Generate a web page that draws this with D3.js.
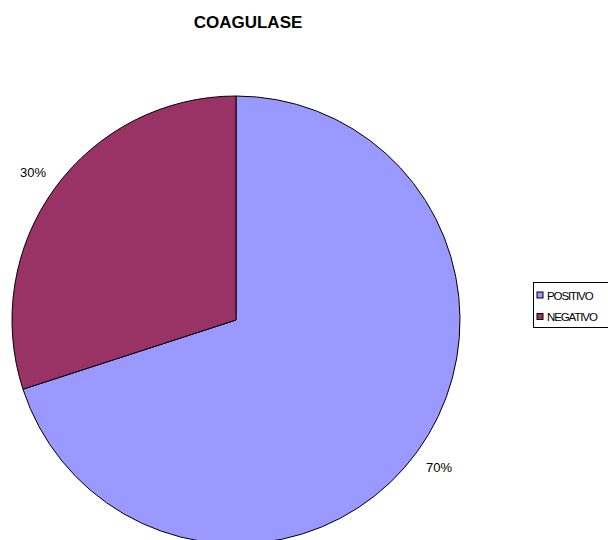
<!DOCTYPE html>
<html><head><meta charset="utf-8">
<script src="https://cdn.jsdelivr.net/npm/d3@7"></script>
<style>body{margin:0;background:#fff;overflow:hidden}svg{display:block}</style>
</head><body>
<svg id="c" width="608" height="540"></svg>
<script>
const title = "COAGULASE";
const categories = ["POSITIVO", "NEGATIVO"];
const values = [70, 30];
const colors = ["#9999FF", "#993366"];

const svg = d3.select("#c");
const cx = 236, cy = 320, r = 224;

svg.append("text").attr("x", 248).attr("y", 28).attr("text-anchor", "middle")
  .attr("font-family", "Arial, 'Liberation Sans', sans-serif").attr("font-weight", "bold")
  .attr("font-size", 17).text(title);

const data = categories.map((c, i) => ({c, v: values[i], col: colors[i]}));
const pie = d3.pie().value(d => d.v).sort(null);
const arcs = pie(data);
const arc = d3.arc().innerRadius(0).outerRadius(r);
const g = svg.append("g").attr("transform", `translate(${cx},${cy})`);
g.selectAll("path").data(arcs).join("path")
  .attr("d", arc).attr("fill", d => d.data.col)
  .attr("stroke", "#000").attr("stroke-width", 1);

const total = d3.sum(values);
const lr = r + 27;
const labelArc = d3.arc().innerRadius(lr).outerRadius(lr);
g.selectAll("text.lbl").data(arcs).join("text").attr("class", "lbl")
  .attr("transform", d => `translate(${labelArc.centroid(d)})`)
  .attr("text-anchor", "middle").attr("dy", "0.35em")
  .attr("font-family", "Arial, 'Liberation Sans', sans-serif").attr("font-size", 13)
  .attr("fill", "#000")
  .text(d => Math.round(d.data.v / total * 100) + "%");

const lg = svg.append("g").attr("transform", "translate(533,282)");
lg.append("rect").attr("x", 0.5).attr("y", 0.5).attr("width", 100).attr("height", 45)
  .attr("fill", "#fff").attr("stroke", "#000").attr("stroke-width", 1);
const items = lg.selectAll("g.it").data(data).join("g").attr("class", "it")
  .attr("transform", (d, i) => `translate(4,${10 + i * 21.5})`);
items.append("rect").attr("width", 6).attr("height", 6).attr("fill", d => d.col)
  .attr("stroke", "#000").attr("stroke-width", 1);
items.append("text").attr("x", 10).attr("y", 7.5)
  .attr("font-family", "Arial, 'Liberation Sans', sans-serif").attr("font-size", 11.5)
  .attr("letter-spacing", "-1.1px").text(d => d.c);
</script>
</body></html>
